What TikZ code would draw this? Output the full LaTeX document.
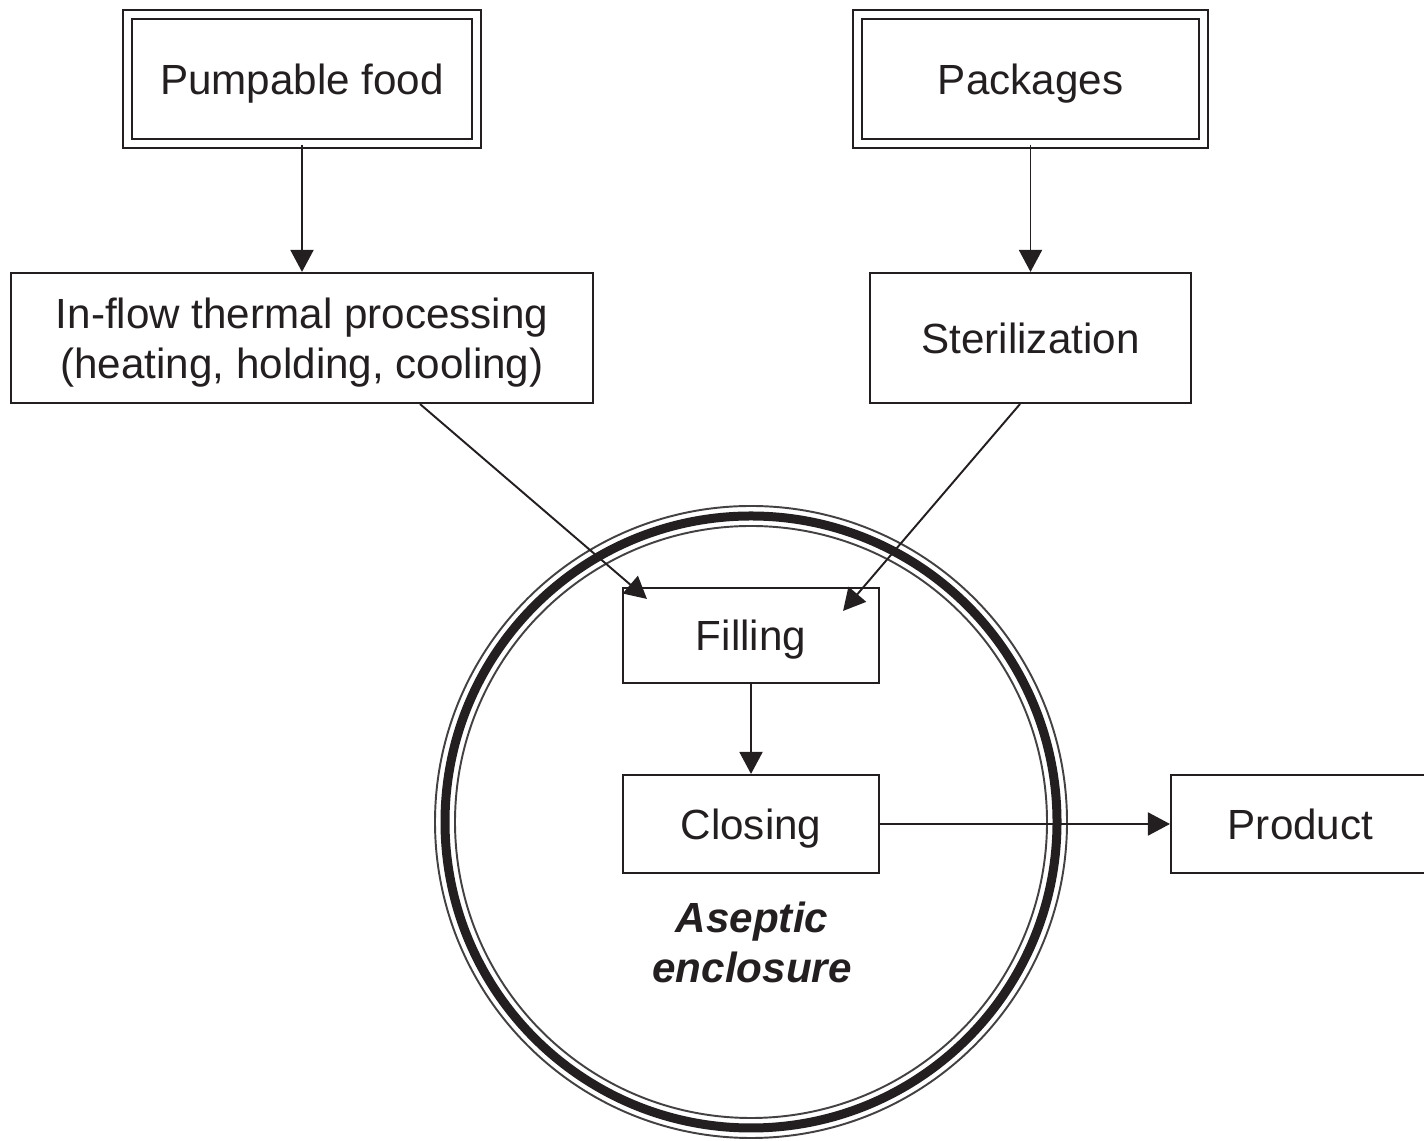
\documentclass[tikz,border=0pt]{standalone}
\usepackage{fontspec}
\setmainfont{Liberation Sans}
\usetikzlibrary{arrows.meta,positioning}
\definecolor{ink}{HTML}{231F20}

\begin{document}
\begin{tikzpicture}[>={Triangle[length=2.2mm,width=2.3mm]},
  every node/.style={font=\fontsize{12}{14.2}\selectfont,text=ink},
  stepbox/.style={draw=ink,line width=0.6pt,align=center,inner sep=0pt,text depth=0pt},
  srcbox/.style={stepbox,double=white,double distance=0.07cm},
  flow/.style={->,draw=ink,line width=0.55pt}]
\useasboundingbox (0,0) rectangle (14.24,11.41);
% enclosure ring
\draw[ink!85,line width=0.55pt] (7.51,3.19) circle (3.16);
\draw[ink,line width=0.09cm] (7.51,3.19) circle (3.06);
\draw[ink!85,line width=0.55pt] (7.51,3.19) circle (2.96);
% boxes
\node[srcbox,minimum width=3.485cm,minimum height=1.29cm] (food) at (3.02,10.62) {Pumpable food};
\node[srcbox,minimum width=3.46cm,minimum height=1.29cm] (pack) at (10.305,10.62) {Packages};
\node[stepbox,minimum width=5.82cm,minimum height=1.30cm] (inflow) at (3.02,8.03) {In-flow thermal processing\\(heating, holding, cooling)};
\node[stepbox,minimum width=3.21cm,minimum height=1.30cm] (steril) at (10.305,8.03) {Sterilization};
\node[stepbox,minimum width=2.56cm,minimum height=0.95cm] (fill) at (7.51,5.055) {Filling};
\node[stepbox,minimum width=2.56cm,minimum height=0.98cm] (close) at (7.51,3.17) {Closing};
\node[stepbox,minimum width=2.59cm,minimum height=0.98cm] (prod) at (13.005,3.17) {Product};
\node[align=center,font=\fontsize{12}{14.2}\selectfont\bfseries\itshape] (encl) at (7.52,1.99) {Aseptic\\enclosure};
% connectors
\coordinate (a1) at ([xshift=1.18cm]inflow.south);
\coordinate (t1) at ([xshift=0.25cm,yshift=-0.12cm]fill.north west);
\coordinate (a2) at ([xshift=-0.105cm]steril.south);
\coordinate (t2) at ([xshift=-0.37cm,yshift=-0.24cm]fill.north east);
\draw[flow] (food) -- (inflow);
\draw[flow] (pack) -- (steril);
\draw[flow] (a1) -- (t1);
\draw[flow] (a2) -- (t2);
\draw[flow] (fill) -- (close);
\draw[flow] (close) -- (prod);
\end{tikzpicture}
\end{document}
